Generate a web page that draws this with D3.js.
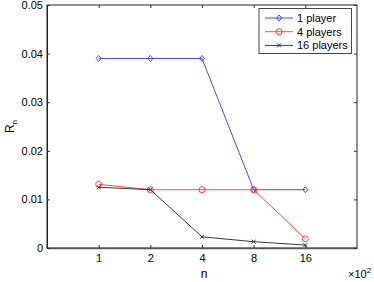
<!DOCTYPE html>
<html><head><meta charset="utf-8">
<script src="https://cdn.jsdelivr.net/npm/d3@7"></script>
<style>body{margin:0;background:#fff}svg{display:block}text{font-family:"Liberation Sans",Arial,sans-serif;fill:#000}</style>
</head><body>
<svg id="c" width="374" height="282"></svg>
<script>
const categories = ["1","2","4","8","16"];
const seriesNames = ["1 player","4 players","16 players"];
const onePlayer = [0.039,0.039,0.039,0.012,0.012];
const fourPlayers = [0.0131,0.012,0.012,0.012,0.0019];
const sixteenPlayers = [0.0125,0.012,0.0023,0.0013,0.0006];
const yTicks = [0,0.01,0.02,0.03,0.04,0.05];

const svg = d3.select("#c");
const L=47,R=357,T=5,B=248;
const x = d3.scaleLinear().domain([0,categories.length+1]).range([L,R]);
const y = d3.scaleLinear().domain([0,0.05]).range([B,T]);
const fs=11;

const series=[
  {name:seriesNames[0],vals:onePlayer,color:"#3333ff",marker:"diamond"},
  {name:seriesNames[1],vals:fourPlayers,color:"#ff3333",marker:"circle"},
  {name:seriesNames[2],vals:sixteenPlayers,color:"#222",marker:"x"}
];

function marker(g,type,cx,cy,color){
  if(type==="diamond"){
    g.append("path").attr("d",`M${cx},${cy-3}L${cx+2.5},${cy}L${cx},${cy+3}L${cx-2.5},${cy}Z`).attr("fill","none").attr("stroke",color).attr("stroke-width",0.9);
  } else if(type==="circle"){
    g.append("circle").attr("cx",cx).attr("cy",cy).attr("r",3).attr("fill","none").attr("stroke",color).attr("stroke-width",0.9);
  } else {
    g.append("path").attr("d",`M${cx-2},${cy-2}L${cx+2},${cy+2}M${cx-2},${cy+2}L${cx+2},${cy-2}`).attr("stroke",color).attr("stroke-width",0.9);
  }
}

// axes box
svg.append("rect").attr("x",L).attr("y",T).attr("width",R-L).attr("height",B-T).attr("fill","none").attr("stroke","#222").attr("stroke-width",1);

// x axis
const xAxis = d3.axisBottom(x).tickValues(categories.map((c,i)=>i+1)).tickFormat((d,i)=>categories[i]).tickSizeInner(-3).tickSizeOuter(0).tickPadding(6);
const gx = svg.append("g").attr("transform",`translate(0,${B})`).call(xAxis);
gx.select(".domain").attr("stroke","#555").attr("stroke-width",1.5);
gx.selectAll("text").attr("font-size",fs).attr("font-family","Liberation Sans, Arial, sans-serif");
gx.selectAll("line").attr("stroke","#333");
const xTop = d3.axisTop(x).tickValues(categories.map((c,i)=>i+1)).tickFormat("").tickSizeInner(-3).tickSizeOuter(0);
const gxt = svg.append("g").attr("transform",`translate(0,${T})`).call(xTop);
gxt.select(".domain").remove(); gxt.selectAll("line").attr("stroke","#333");

// y axis
const yAxis = d3.axisLeft(y).tickValues(yTicks).tickFormat(d=>d===0?"0":d3.format(".2f")(d)).tickSizeInner(-3).tickSizeOuter(0).tickPadding(4);
const gy = svg.append("g").attr("transform",`translate(${L},0)`).call(yAxis);
gy.select(".domain").attr("stroke","#222");
gy.selectAll("text").attr("font-size",fs).attr("font-family","Liberation Sans, Arial, sans-serif");
gy.selectAll("line").attr("stroke","#333");
const yRight = d3.axisRight(y).tickValues(yTicks).tickFormat("").tickSizeInner(-3).tickSizeOuter(0);
const gyr = svg.append("g").attr("transform",`translate(${R},0)`).call(yRight);
gyr.select(".domain").remove(); gyr.selectAll("line").attr("stroke","#333");

// series
const line = d3.line().x((d,i)=>x(i+1)).y(d=>y(d));
series.forEach(s=>{
  svg.append("path").attr("d",line(s.vals)).attr("fill","none").attr("stroke",s.color).attr("stroke-width",0.9);
  const g=svg.append("g");
  s.vals.forEach((v,i)=>marker(g,s.marker,x(i+1),y(v),s.color));
});

// labels
svg.append("text").attr("x",(L+R)/2+2).attr("y",278).attr("text-anchor","middle").attr("font-size",12).text("n");
const yl = svg.append("text").attr("transform",`translate(14,${(T+B)/2}) rotate(-90)`).attr("text-anchor","middle").attr("font-size",12);
yl.append("tspan").text("R");
yl.append("tspan").attr("font-size",8).attr("dy",3).text("n");
const ex = svg.append("text").attr("x",348).attr("y",278).attr("text-anchor","start").attr("font-size",11);
ex.append("tspan").text("×10");
ex.append("tspan").attr("font-size",8).attr("dy",-5).text("2");

// legend
const lg = svg.append("g");
lg.append("rect").attr("x",259).attr("y",8.5).attr("width",92.5).attr("height",45).attr("fill","#fff").attr("stroke","#333").attr("stroke-width",0.9);
series.forEach((s,i)=>{
  const yy = 18 + i*13.7;
  lg.append("line").attr("x1",265).attr("x2",293).attr("y1",yy).attr("y2",yy).attr("stroke",s.color).attr("stroke-width",0.9);
  marker(lg,s.marker,279,yy,s.color);
  lg.append("text").attr("x",297).attr("y",yy+4).attr("font-size",11).text(s.name);
});
</script>
</body></html>
